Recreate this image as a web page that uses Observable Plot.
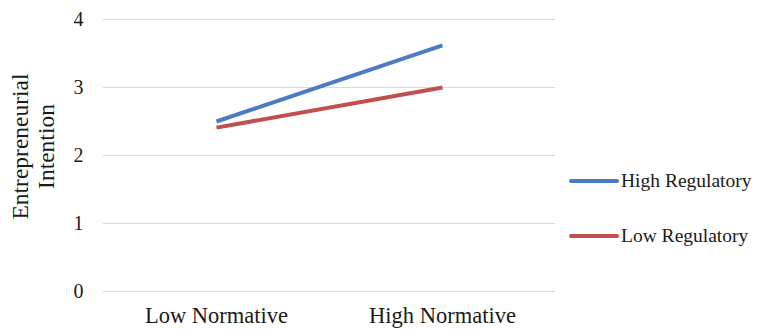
<!DOCTYPE html>
<html>
<head>
<meta charset="utf-8">
<script src="https://cdn.jsdelivr.net/npm/d3@7"></script>
<script src="https://cdn.jsdelivr.net/npm/@observablehq/plot@0.6"></script>
<style>
  html, body { margin: 0; padding: 0; background: #fff; }
  #wrap { position: relative; width: 760px; height: 331px; font-family: "Liberation Serif", "Times New Roman", serif; }
  #legend { position: absolute; left: 569px; top: 0; }
  .item { position: absolute; display: flex; align-items: center; white-space: nowrap; font-size: 19.5px; color: #1a1a1a; }
  .swatch { width: 50px; height: 4px; border-radius: 2px; margin-right: 2px; }
</style>
</head>
<body>
<div id="wrap"></div>
<script>
// Interaction plot: entrepreneurial intention by normative level, per regulatory group
const categories = ["Low Normative", "High Normative"];
const series = ["High Regulatory", "Low Regulatory"];
const highRegulatory = [2.5, 3.62];
const lowRegulatory = [2.41, 3.0];
const yTicks = [0, 1, 2, 3, 4];
const colors = ["#4a7cc4", "#c0504d"];

const rows = [];
categories.forEach((c, i) => {
  rows.push({category: c, group: series[0], value: highRegulatory[i]});
  rows.push({category: c, group: series[1], value: lowRegulatory[i]});
});

const chart = Plot.plot({
  width: 760,
  height: 331,
  marginLeft: 103,
  marginRight: 205,
  marginTop: 19,
  marginBottom: 40,
  style: {fontFamily: "'Liberation Serif', 'Times New Roman', serif", color: "#1a1a1a", background: "#fff"},
  x: {type: "point", domain: categories, padding: 0.5, label: null},
  y: {domain: [0, 4], ticks: yTicks, label: null},
  color: {domain: series, range: colors},
  marks: [
    Plot.gridY(yTicks, {stroke: "#d9d9d9", strokeOpacity: 1, strokeWidth: 1.2}),
    Plot.axisY(yTicks, {tickSize: 0, tickPadding: 20, fontSize: 20, label: null, tickFormat: d3.format("d")}),
    Plot.axisX({tickSize: 0, tickPadding: 16, fontSize: 22.5, label: null}),
    Plot.text(["Entrepreneurial\nIntention"], {
      frameAnchor: "left", textAnchor: "middle", rotate: -90, dx: -71, dy: -9,
      fontSize: 23.5, lineHeight: 1.1, fill: "#1a1a1a"
    }),
    Plot.line(rows, {x: "category", y: "value", z: "group", stroke: "group", strokeWidth: 4, strokeLinecap: "butt"})
  ]
});

const wrap = document.getElementById("wrap");
wrap.appendChild(chart);

// Legend to the right of the plot area
const legend = document.createElement("div");
legend.id = "legend";
const tops = [170, 225];
series.forEach((s, i) => {
  const item = document.createElement("div");
  item.className = "item";
  item.style.top = tops[i] + "px";
  const sw = document.createElement("span");
  sw.className = "swatch";
  sw.style.background = colors[i];
  const label = document.createElement("span");
  label.textContent = s;
  item.appendChild(sw);
  item.appendChild(label);
  legend.appendChild(item);
});
wrap.appendChild(legend);
</script>
</body>
</html>
